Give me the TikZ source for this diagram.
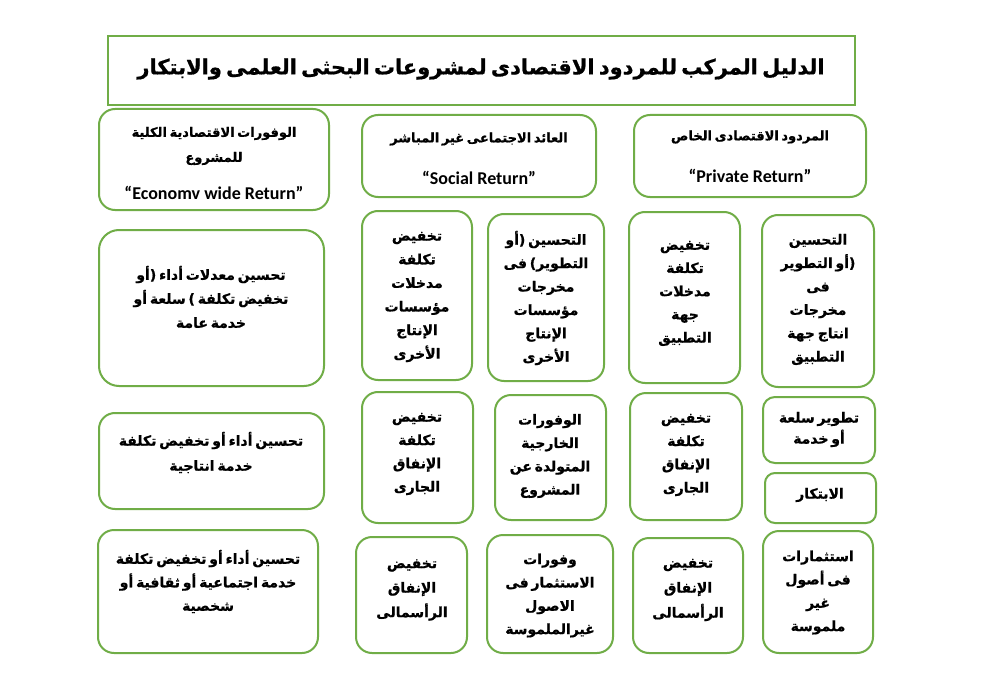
\documentclass[tikz,border=0pt]{standalone}
\usepackage{fontspec}
\usetikzlibrary{fit}
\newfontfamily\arabicfont[Script=Arabic, BoldFeatures={FakeBold=0.8}]{DejaVu Sans}
\newfontfamily\engfont{Carlito}
\TeXXeTstate=1
\newcommand{\ar}[1]{\beginR #1\endR}
\newcommand{\arsp}{\spaceskip=0.2em\relax}
\definecolor{boxgreen}{RGB}{112,173,71}
\begin{document}
\begin{tikzpicture}[x=1pt,y=-1pt,
  box/.style={draw=boxgreen, line width=2pt, rounded corners=16pt, inner sep=0pt},
  titlebox/.style={draw=boxgreen, line width=2pt, inner sep=0pt},
  artxt/.style={font=\arabicfont\bfseries\fontsize{14}{#1}\selectfont\arsp, align=center, inner sep=0pt},
  hdtxt/.style={font=\arabicfont\bfseries\fontsize{13}{#1}\selectfont\arsp, align=center, inner sep=0pt},
  entxt/.style={font=\engfont\bfseries\fontsize{18}{20}\selectfont, inner sep=0pt}]
\fill[white] (0,0) rectangle (988,682);
\useasboundingbox (0,0) rectangle (988,682);
% boxes
\node[titlebox, fit={(108,36) (855,105)}] (title) {};
\node[box, fit={(99,109) (329,210)}] (h1) {};
\node[box, fit={(362,115) (596,197)}] (h2) {};
\node[box, fit={(634,115) (866,197)}] (h3) {};
\node[box, rounded corners=20pt, fit={(99,230) (324,386)}] (r2a) {};
\node[box, fit={(362,211) (472,380)}] (r2b) {};
\node[box, fit={(488,214) (604,381)}] (r2c) {};
\node[box, fit={(629,212) (740,383)}] (r2d) {};
\node[box, fit={(762,215) (874,387)}] (r2e) {};
\node[box, fit={(99,413) (324,509)}] (r3a) {};
\node[box, fit={(362,392) (473,523)}] (r3b) {};
\node[box, fit={(495,395) (606,520)}] (r3c) {};
\node[box, fit={(630,393) (742,520)}] (r3d) {};
\node[box, rounded corners=12pt, fit={(763,397) (875,463)}] (r3e) {};
\node[box, rounded corners=10pt, fit={(765,473) (876,523)}] (r3f) {};
\node[box, fit={(98,530) (318,653)}] (r4a) {};
\node[box, fit={(356,537) (467,653)}] (r4b) {};
\node[box, fit={(487,535) (613,653)}] (r4c) {};
\node[box, fit={(633,538) (743,653)}] (r4d) {};
\node[box, fit={(763,531) (873,653)}] (r4e) {};
% texts
\node[artxt=24, font=\arabicfont\bfseries\fontsize{21}{24}\selectfont\arsp] (ttitle) at (481,69) {\ar{الدليل المركب للمردود الاقتصادى لمشروعات البحثى العلمى والابتكار}};
\node[hdtxt=25] (th1) at (214,146) {\ar{الوفورات الاقتصادية الكلية}\\\ar{للمشروع}};
\node[entxt] (eh1) at (214,193) {“Economv wide Return”};
\node[hdtxt=25] (th2) at (479,139) {\ar{العائد الاجتماعى غير المباشر}};
\node[entxt] (eh2) at (479,178) {“Social Return”};
\node[hdtxt=25] (th3) at (750,137) {\ar{المردود الاقتصادى الخاص}};
\node[entxt] (eh3) at (750,176) {“Private Return”};
\node[artxt=24] (tr2a) at (211,297) {\ar{تحسين معدلات أداء (أو}\\\ar{تخفيض تكلفة ) سلعة أو}\\\ar{خدمة عامة}};
\node[artxt=23.6] (tr2b) at (417,297) {\ar{تخفيض}\\\ar{تكلفة}\\\ar{مدخلات}\\\ar{مؤسسات}\\\ar{الإنتاج}\\\ar{الأخرى}};
\node[artxt=23.4] (tr2c) at (546,298) {\ar{التحسين (أو}\\\ar{التطوير) فى}\\\ar{مخرجات}\\\ar{مؤسسات}\\\ar{الإنتاج}\\\ar{الأخرى}};
\node[artxt=23.2] (tr2d) at (685,293.5) {\ar{تخفيض}\\\ar{تكلفة}\\\ar{مدخلات}\\\ar{جهة}\\\ar{التطبيق}};
\node[artxt=23.4] (tr2e) at (818,299.5) {\ar{التحسين}\\\ar{(أو التطوير}\\\ar{فى}\\\ar{مخرجات}\\\ar{انتاج جهة}\\\ar{التطبيق}};
\node[artxt=25] (tr3a) at (211,452.5) {\ar{تحسين أداء أو تخفيض تكلفة}\\\ar{خدمة انتاجية}};
\node[artxt=23.3] (tr3b) at (417,454) {\ar{تخفيض}\\\ar{تكلفة}\\\ar{الإنفاق}\\\ar{الجارى}};
\node[artxt=23.3] (tr3c) at (550,456) {\ar{الوفورات}\\\ar{الخارجية}\\\ar{المتولدة عن}\\\ar{المشروع}};
\node[artxt=23.3] (tr3d) at (686,455) {\ar{تخفيض}\\\ar{تكلفة}\\\ar{الإنفاق}\\\ar{الجارى}};
\node[artxt=21] (tr3e) at (819,429.5) {\ar{تطوير سلعة}\\\ar{أو خدمة}};
\node[artxt=21] (tr3f) at (820,495) {\ar{الابتكار}};
\node[artxt=23.5] (tr4a) at (208,581.5) {\ar{تحسين أداء أو تخفيض تكلفة}\\\ar{خدمة اجتماعية أو ثقافية أو}\\\ar{شخصية}};
\node[artxt=24.5] (tr4b) at (412,590) {\ar{تخفيض}\\\ar{الإنفاق}\\\ar{الرأسمالى}};
\node[artxt=23.3] (tr4c) at (550,595.5) {\ar{وفورات}\\\ar{الاستثمار فى}\\\ar{الاصول}\\\ar{غيرالملموسة}};
\node[artxt=25] (tr4d) at (688,590) {\ar{تخفيض}\\\ar{الإنفاق}\\\ar{الرأسمالى}};
\node[artxt=23.3] (tr4e) at (818,592.5) {\ar{استثمارات}\\\ar{فى أصول}\\\ar{غير}\\\ar{ملموسة}};
\end{tikzpicture}
\end{document}
